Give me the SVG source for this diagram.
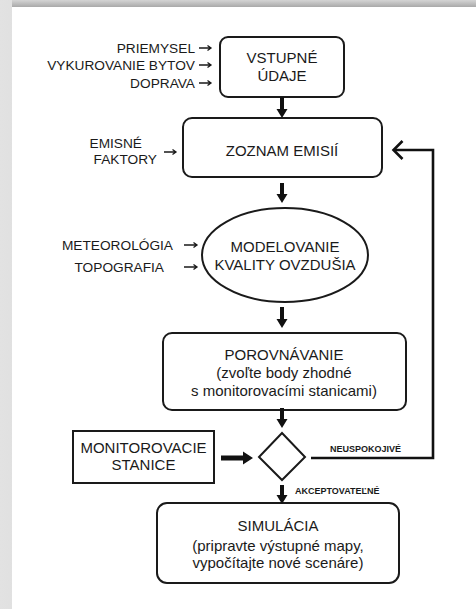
<svg xmlns="http://www.w3.org/2000/svg" width="476" height="609" viewBox="0 0 476 609">
<defs>
<linearGradient id="gTop" x1="0" y1="0" x2="0" y2="1">
<stop offset="0" stop-color="#d4d4d4"/>
<stop offset="1" stop-color="#a9a9a9"/>
</linearGradient>
<linearGradient id="gLeft" x1="0" y1="0" x2="1" y2="0">
<stop offset="0" stop-color="#e2e2e2"/>
<stop offset="1" stop-color="#a9a9a9"/>
</linearGradient>
</defs>
<style>
.box{fill:#fff;stroke:#1a1a1a;stroke-width:2}
.t{font-family:"Liberation Sans",Arial,sans-serif;font-size:15px;fill:#1a1a1a;text-anchor:middle}
.l{font-family:"Liberation Sans",Arial,sans-serif;font-size:13.7px;fill:#1a1a1a;text-anchor:end}
.s{font-family:"Liberation Sans",Arial,sans-serif;font-size:9px;font-weight:bold;fill:#1a1a1a}
.thin{fill:none;stroke:#1a1a1a;stroke-width:1.3}
.thick{fill:#111}
.line{fill:none;stroke:#111;stroke-width:2.6}
</style>
<rect x="0" y="0" width="476" height="609" fill="url(#gLeft)"/>
<rect x="12" y="0" width="464" height="7" fill="url(#gTop)"/>
<rect x="12" y="7" width="464" height="602" fill="#fff"/>

<g id="vstupne">
<rect class="box" x="220" y="37" width="124" height="60" rx="8"/>
<text class="t" x="282" y="63">VSTUPNÉ</text>
<text class="t" x="282" y="81">ÚDAJE</text>
</g>
<g id="inputs-vstupne">
<text class="l" x="195" y="53">PRIEMYSEL</text>
<text class="l" x="195" y="70">VYKUROVANIE BYTOV</text>
<text class="l" x="195" y="88">DOPRAVA</text>
</g>
<g id="zoznam">
<rect class="box" x="183" y="118" width="199" height="59" rx="9"/>
<text class="t" x="282" y="156">ZOZNAM EMISIÍ</text>
</g>
<g id="emisne">
<text class="l" x="142" y="148">EMISNÉ</text>
<text class="l" x="157" y="164">FAKTORY</text>
</g>
<g id="modelovanie">
<ellipse class="box" cx="285" cy="255" rx="83" ry="47"/>
<text class="t" x="285" y="252">MODELOVANIE</text>
<text class="t" x="285" y="270">KVALITY OVZDUŠIA</text>
</g>
<g id="inputs-model">
<text class="l" x="173" y="250">METEOROLÓGIA</text>
<text class="l" x="164" y="272">TOPOGRAFIA</text>
</g>
<g id="porovnavanie">
<rect class="box" x="163" y="333" width="243" height="77" rx="9"/>
<text class="t" x="284" y="360">POROVNÁVANIE</text>
<text class="t" x="284" y="378">(zvoľte body zhodné</text>
<text class="t" x="284" y="396">s monitorovacími stanicami)</text>
</g>
<g id="monitorovacie">
<rect class="box" x="73" y="431" width="141" height="52"/>
<text class="t" x="143.5" y="453">MONITOROVACIE</text>
<text class="t" x="143.5" y="470">STANICE</text>
</g>
<g id="decision">
<polygon class="box" points="282,433 305,457 282,480 259,457"/>
</g>
<g id="simulacia">
<rect class="box" x="157" y="503" width="242" height="80" rx="10"/>
<text class="t" x="278" y="531">SIMULÁCIA</text>
<text class="t" x="278" y="551">(pripravte výstupné mapy,</text>
<text class="t" x="278" y="568">vypočítajte nové scenáre)</text>
</g>

<g id="connectors">
<path class="thin" d="M199 48 H211 M207.5 45.5 L211 48 L207.5 50.5"/>
<path class="thin" d="M199 65 H211 M207.5 62.5 L211 65 L207.5 67.5"/>
<path class="thin" d="M199 83 H211 M207.5 80.5 L211 83 L207.5 85.5"/>
<path class="thin" d="M164 152 H176 M172.5 149.5 L176 152 L172.5 154.5"/>
<path class="thin" d="M184 245 H197 M193.5 242.5 L197 245 L193.5 247.5"/>
<path class="thin" d="M184 267 H197 M193.5 264.5 L197 267 L193.5 269.5"/>
<path class="thick" d="M280 97 H284 V109 H287.5 L282 118 L276.5 109 H280 Z"/>
<path class="thick" d="M280 183 H284 V194 H287.5 L282 203 L276.5 194 H280 Z"/>
<path class="thick" d="M280 307 H284 V319 H287.5 L282 328 L276.5 319 H280 Z"/>
<path class="thick" d="M280 408 H284 V419 H287.5 L282 428 L276.5 419 H280 Z"/>
<path class="thick" d="M280 485 H284 V495 H287.5 L282 504 L276.5 495 H280 Z"/>
<path class="thick" d="M221 456 V460.5 H243 V464.5 L253 458 L243 451.5 V455.5 H221 Z"/>
<path class="line" d="M311 458 H433 V150 H394"/>
<path class="line" d="M402.5 141 L393.5 150 L402.5 159"/>
<text class="s" x="330" y="452">NEUSPOKOJIVÉ</text>
<text class="s" x="295" y="494">AKCEPTOVATEĽNÉ</text>
</g>
</svg>
